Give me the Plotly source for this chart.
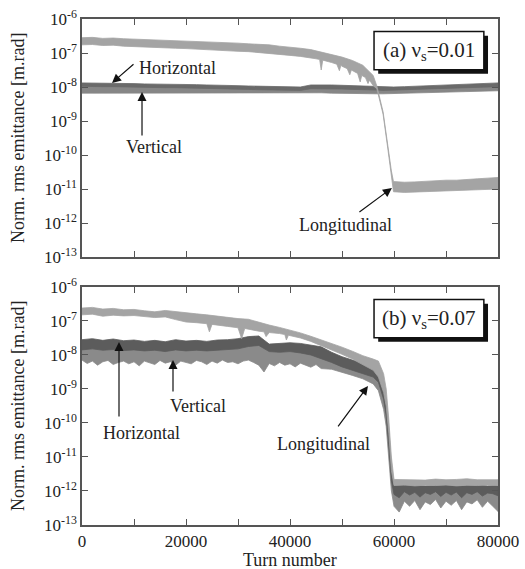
import plotly.graph_objects as go

# ---------------- data (log10 of normalized rms emittance, m.rad) ----------------
# Panel (a): nu_s = 0.01
turns_a = [0, 2000, 4000, 6000, 8000, 10000, 12000, 14000, 16000, 18000,
           20000, 22000, 24000, 26000, 28000, 30000, 32000, 34000, 36000, 38000,
           40000, 42000, 44000, 46000, 48000, 50000, 52000, 54000, 56000,
           56700, 57900, 58800, 59500, 59900,
           62000, 64000, 66000, 68000, 70000, 72000, 74000, 76000, 78000, 80000]

long_a_hi = [-6.55, -6.54, -6.57, -6.56, -6.58, -6.59, -6.60, -6.61, -6.62, -6.63,
             -6.64, -6.66, -6.67, -6.68, -6.70, -6.71, -6.73, -6.74, -6.76, -6.80,
             -6.82, -6.86, -6.90, -6.97, -7.04, -7.12, -7.22, -7.36, -7.66,
             -7.97, -8.73, -9.73, -10.47, -10.78,
             -10.80, -10.79, -10.77, -10.76, -10.74, -10.74, -10.71, -10.70, -10.68, -10.66]

long_a_lo_turns = [0, 2000, 4000, 6000, 8000, 10000, 12000, 14000, 16000, 18000,
                   20000, 22000, 24000, 26000, 28000, 30000, 32000, 34000, 36000, 38000,
                   40000, 42000, 44000, 45000, 45700, 46000, 46300, 47000, 48000, 49000,
                   49500, 49800, 50000, 51000, 51500, 51800, 52300, 53000, 53500, 53800,
                   54500, 55000, 55300, 56000, 56700, 57900, 58800, 59500, 59900,
                   62000, 64000, 66000, 68000, 70000, 72000, 74000, 76000, 78000, 80000]
long_a_lo = [-6.76, -6.75, -6.78, -6.77, -6.80, -6.80, -6.83, -6.83, -6.85, -6.86,
             -6.87, -6.89, -6.90, -6.92, -6.93, -6.95, -6.96, -6.98, -7.00, -7.04,
             -7.07, -7.10, -7.14, -7.17, -7.19, -7.50, -7.21, -7.24, -7.28, -7.33,
             -7.52, -7.36, -7.39, -7.46, -7.64, -7.50, -7.54, -7.60, -7.85, -7.66,
             -7.72, -7.90, -7.80, -7.96, -8.05, -8.80, -9.80, -10.55, -11.08,
             -11.10, -11.08, -11.07, -11.06, -11.05, -11.05, -11.03, -11.03, -11.01, -11.00]

horiz_a_hi = [-7.88, -7.88, -7.89, -7.89, -7.90, -7.90, -7.91, -7.91, -7.92, -7.92,
              -7.93, -7.93, -7.94, -7.94, -7.95, -7.96, -7.97, -7.98, -7.99, -8.00,
              -8.00, -8.00, -7.94, -7.93, -7.94, -7.95, -7.96, -7.97, -7.98,
              -7.98, -7.99, -7.99, -8.00, -8.00,
              -7.99, -7.98, -7.97, -7.96, -7.95, -7.94, -7.92, -7.91, -7.89, -7.88]
horiz_a_lo = [-7.98, -7.98, -7.99, -7.99, -8.00, -8.00, -8.01, -8.01, -8.02, -8.02,
              -8.03, -8.03, -8.04, -8.04, -8.05, -8.06, -8.07, -8.08, -8.09, -8.10,
              -8.10, -8.10, -8.05, -8.04, -8.05, -8.06, -8.07, -8.08, -8.09,
              -8.09, -8.10, -8.10, -8.11, -8.11,
              -8.10, -8.09, -8.08, -8.07, -8.06, -8.05, -8.03, -8.02, -8.00, -7.99]

vert_a_hi = [-7.92, -7.92, -7.93, -7.93, -7.94, -7.94, -7.95, -7.95, -7.96, -7.96,
             -7.97, -7.97, -7.98, -7.98, -7.99, -8.00, -8.01, -8.02, -8.03, -8.04,
             -8.04, -8.04, -7.98, -7.97, -7.98, -7.99, -8.00, -8.01, -8.02,
             -8.02, -8.03, -8.03, -8.04, -8.04,
             -8.03, -8.02, -8.01, -8.00, -7.99, -7.98, -7.96, -7.95, -7.93, -7.92]
vert_a_lo = [-8.18, -8.19, -8.18, -8.19, -8.18, -8.19, -8.18, -8.19, -8.18, -8.19,
             -8.18, -8.19, -8.18, -8.19, -8.18, -8.19, -8.19, -8.19, -8.19, -8.19,
             -8.19, -8.19, -8.17, -8.17, -8.18, -8.18, -8.19, -8.19, -8.20,
             -8.20, -8.20, -8.20, -8.20, -8.20,
             -8.20, -8.19, -8.18, -8.17, -8.16, -8.15, -8.14, -8.13, -8.12, -8.11]

# Panel (b): nu_s = 0.07
turns_b = [0, 2000, 4000, 6000, 8000, 10000, 12000, 14000, 16000, 18000,
           20000, 22000, 24000, 26000, 28000, 30000, 32000, 34000, 36000, 38000,
           40000, 42000, 44000, 46000, 48000, 50000, 52000, 54000, 56000,
           57000, 58000, 58500, 59000, 59500, 60000,
           62000, 64000, 66000, 68000, 70000, 72000, 74000, 76000, 78000, 80000]

long_b_hi = [-6.62, -6.60, -6.65, -6.63, -6.67, -6.66, -6.70, -6.73, -6.69, -6.73,
             -6.76, -6.79, -6.82, -6.86, -6.90, -6.93, -6.95, -7.04, -7.12, -7.19,
             -7.26, -7.35, -7.45, -7.55, -7.65, -7.77, -7.89, -8.02, -8.12,
             -8.18, -8.55, -9.00, -9.90, -11.00, -11.66,
             -11.67, -11.66, -11.68, -11.65, -11.67, -11.66, -11.64, -11.67, -11.66, -11.67]

long_b_lo_turns = [0, 2000, 4000, 6000, 8000, 10000, 12000, 14000, 16000, 18000,
                   20000, 22000, 24000, 24500, 25000, 26000, 28000, 30000, 30700, 31300,
                   32000, 34000, 35000, 35400, 36000, 38000, 39000, 39300, 39700, 40000,
                   42000, 44000, 46000, 48000, 50000, 52000, 54000, 56000,
                   57000, 58000, 58500, 59000, 59500, 60000,
                   62000, 64000, 66000, 68000, 70000, 72000, 74000, 76000, 78000, 80000]
long_b_lo = [-6.82, -6.80, -6.86, -6.83, -6.85, -6.84, -6.88, -6.90, -6.88, -6.96,
             -7.03, -7.05, -7.08, -7.32, -7.10, -7.12, -7.16, -7.20, -7.52, -7.22,
             -7.24, -7.30, -7.32, -7.46, -7.34, -7.37, -7.40, -7.56, -7.42, -7.42,
             -7.50, -7.60, -7.72, -7.85, -7.98, -8.12, -8.28, -8.45,
             -8.65, -9.10, -9.50, -10.30, -11.40, -11.84,
             -11.82, -11.85, -11.83, -11.84, -11.82, -11.85, -11.83, -11.84, -11.82, -11.84]

horiz_b_hi = [-7.55, -7.52, -7.57, -7.53, -7.58, -7.56, -7.60, -7.57, -7.61, -7.55,
              -7.59, -7.57, -7.60, -7.56, -7.55, -7.52, -7.46, -7.44, -7.68, -7.67,
              -7.64, -7.66, -7.70, -7.76, -7.92, -8.05, -8.15, -8.24, -8.32,
              -8.45, -8.90, -9.40, -10.20, -11.30, -11.82,
              -11.84, -11.83, -11.85, -11.84, -11.83, -11.85, -11.84, -11.83, -11.85, -11.84]

horiz_b_lo_turns = [0, 2000, 4000, 6000, 8000, 10000, 12000, 14000, 16000, 18000,
                    20000, 22000, 24000, 26000, 28000, 30000, 32000, 34000, 36000, 38000,
                    40000, 42000, 44000, 46000, 48000, 50000, 52000, 54000, 56000,
                    57000, 58000, 58500, 59000, 59500, 60000,
                    61000, 62000, 63000, 64000, 65000, 66000, 67000, 68000, 69000, 70000,
                    71000, 72000, 73000, 74000, 75000, 76000, 77000, 78000, 79000, 80000]
horiz_b_lo = [-7.85, -7.82, -7.86, -7.84, -7.87, -7.85, -7.88, -7.86, -7.90, -7.85,
              -7.88, -7.86, -7.88, -7.85, -7.84, -7.82, -7.75, -7.72, -7.90, -7.92,
              -7.90, -7.94, -8.00, -8.10, -8.22, -8.35, -8.45, -8.55, -8.65,
              -8.80, -9.30, -9.80, -10.70, -11.70, -12.10,
              -12.20, -12.02, -12.12, -12.04, -12.18, -12.05, -12.10, -12.02, -12.16, -12.04,
              -12.12, -12.03, -12.20, -12.05, -12.10, -12.02, -12.15, -12.06, -12.08, -12.14]

vert_b_hi = [-7.70, -7.66, -7.72, -7.68, -7.72, -7.70, -7.74, -7.71, -7.75, -7.70,
             -7.73, -7.71, -7.74, -7.70, -7.70, -7.66, -7.60, -7.58, -7.80, -7.80,
             -7.78, -7.80, -7.85, -7.92, -8.05, -8.18, -8.28, -8.38, -8.46,
             -8.60, -9.05, -9.55, -10.40, -11.50, -11.90,
             -11.92, -11.93, -11.95, -11.92, -11.94, -11.93, -11.95, -11.92, -11.94, -11.93]

vert_b_lo_turns = [0, 1000, 2000, 3000, 4000, 5000, 6000, 7000, 8000, 9000,
                   10000, 11000, 12000, 13000, 14000, 15000, 16000, 17000, 18000, 19000,
                   20000, 21000, 22000, 23000, 24000, 25000, 26000, 27000, 28000, 29000,
                   30000, 31000, 32000, 33000, 34000, 35000, 36000, 37000, 38000, 39000,
                   40000, 41000, 42000, 43000, 44000, 45000, 46000,
                   48000, 50000, 52000, 54000, 56000, 57000, 58000, 58500, 59000, 59500, 60000,
                   61000, 62000, 63000, 64000, 65000, 66000, 67000, 68000, 69000, 70000,
                   71000, 72000, 73000, 74000, 75000, 76000, 77000, 78000, 79000, 80000]
vert_b_lo = [-8.15, -8.25, -8.18, -8.30, -8.20, -8.16, -8.28, -8.22, -8.18, -8.26,
             -8.20, -8.32, -8.18, -8.22, -8.28, -8.16, -8.24, -8.20, -8.30, -8.18,
             -8.22, -8.26, -8.16, -8.20, -8.28, -8.18, -8.24, -8.15, -8.22, -8.20,
             -8.26, -8.18, -8.15, -8.22, -8.30, -8.50, -8.25, -8.32, -8.22, -8.30,
             -8.26, -8.35, -8.24, -8.30, -8.36, -8.28, -8.40,
             -8.42, -8.50, -8.60, -8.70, -8.85, -9.05, -9.60, -10.10, -11.00, -12.00, -12.45,
             -12.62, -12.30, -12.45, -12.28, -12.55, -12.32, -12.40, -12.25, -12.50, -12.30,
             -12.42, -12.28, -12.55, -12.32, -12.38, -12.26, -12.48, -12.30, -12.45, -12.60]

decades = [-6, -7, -8, -9, -10, -11, -12, -13]
x_ticks = [0, 10000, 20000, 30000, 40000, 50000, 60000, 70000, 80000]
x_labels = ["0", "", "20000", "", "40000", "", "60000", "", "80000"]

# ---------------- figure ----------------
FONT = "Liberation Serif"
C_L, C_V, C_H = "#a4a4a4", "#8a8a8a", "#5c5c5c"
C_VA, C_HA = "#868686", "#6a6a6a"


def band(x_hi, hi, x_lo, lo, color, xa, ya):
    xs = list(x_hi) + list(x_lo)[::-1]
    ys = [10 ** v for v in hi] + [10 ** v for v in lo][::-1]
    return go.Scatter(x=xs, y=ys, fill="toself", fillcolor=color, mode="lines",
                      line=dict(color=color, width=0.8), xaxis=xa, yaxis=ya,
                      hoverinfo="skip", showlegend=False)


fig = go.Figure()
fig.add_trace(band(turns_a, vert_a_hi, turns_a, vert_a_lo, C_VA, "x", "y"))
fig.add_trace(band(turns_a, horiz_a_hi, turns_a, horiz_a_lo, C_HA, "x", "y"))
fig.add_trace(band(turns_a, long_a_hi, long_a_lo_turns, long_a_lo, C_L, "x", "y"))
fig.add_trace(band(turns_b, vert_b_hi, vert_b_lo_turns, vert_b_lo, C_V, "x2", "y2"))
fig.add_trace(band(turns_b, horiz_b_hi, horiz_b_lo_turns, horiz_b_lo, C_H, "x2", "y2"))
fig.add_trace(band(turns_b, long_b_hi, long_b_lo_turns, long_b_lo, C_L, "x2", "y2"))

tick_font = dict(family=FONT, size=17, color="#222")
axcommon = dict(showline=True, linecolor="#555", linewidth=1.5, mirror="ticks",
                ticks="inside", ticklen=6, tickwidth=1.2, tickcolor="#555",
                showgrid=False, zeroline=False, tickfont=tick_font,
                automargin=False, ticklabeloverflow="allow")
yvals = [10.0 ** d for d in decades]
ytext = ["10<sup>%d</sup>" % d for d in decades]

fig.update_layout(
    template="none",
    width=525, height=569, autosize=False,
    margin=dict(l=82, r=27, t=19, b=44),
    paper_bgcolor="white", plot_bgcolor="white",
    font=dict(family=FONT, color="#222"),
    showlegend=False,
    xaxis=dict(domain=[0, 1], anchor="y", range=[0, 80000], tickvals=x_ticks,
               showticklabels=False, **axcommon),
    yaxis=dict(domain=[0.5296, 1], anchor="x", type="log", range=[-13, -6],
               tickvals=yvals, ticktext=ytext, **axcommon),
    xaxis2=dict(domain=[0, 1], anchor="y2", range=[0, 80000], tickvals=x_ticks,
                ticktext=x_labels, **axcommon),
    yaxis2=dict(domain=[0, 0.4704], anchor="x2", type="log", range=[-13, -6],
                tickvals=yvals, ticktext=ytext, **axcommon),
)

shapes = []
for xr, yr in (("x domain", "y domain"), ("x2 domain", "y2 domain")):
    shapes.append(dict(type="rect", xref=xr, yref=yr, x0=0.712, x1=0.976,
                       y0=0.770, y1=0.930, fillcolor="#111", line=dict(width=0),
                       layer="above"))
    shapes.append(dict(type="rect", xref=xr, yref=yr, x0=0.702, x1=0.966,
                       y0=0.787, y1=0.947, fillcolor="white",
                       line=dict(color="#111", width=1.5), layer="above"))
fig.update_layout(shapes=shapes)

ann = []
txt = dict(family=FONT, size=18, color="#222")
center = dict(xanchor="center", yanchor="middle", showarrow=False)
# panel labels
ann.append(dict(xref="x domain", yref="y domain", x=0.834, y=0.867,
                text="(a) ν<sub>s</sub>=0.01", font=dict(family=FONT, size=21, color="#222"), **center))
ann.append(dict(xref="x2 domain", yref="y2 domain", x=0.834, y=0.867,
                text="(b) ν<sub>s</sub>=0.07", font=dict(family=FONT, size=21, color="#222"), **center))
# axis titles
for yr in ("y domain", "y2 domain"):
    ann.append(dict(xref="paper", yref=yr, x=-0.154, y=0.5,
                    text="Norm. rms emittance [m.rad]", textangle=-90, font=txt, **center))
ann.append(dict(xref="paper", yref="paper", x=0.5, y=-0.069,
                text="Turn number", font=txt, **center))

arrow = dict(showarrow=True, text="", arrowhead=2, arrowsize=1.5, arrowwidth=1.2,
             arrowcolor="#111", axref="pixel", ayref="pixel")
# panel (a) labels + arrows
ann.append(dict(xref="x", yref="y", x=5770, y=-7.88, ax=23, ay=-20, **arrow))
ann.append(dict(xref="x", yref="y", x=10577, y=-7.44, text="Horizontal", font=txt,
                xanchor="left", yanchor="middle", showarrow=False))
ann.append(dict(xref="x", yref="y", x=11540, y=-8.15, ax=0, ay=45, **arrow))
ann.append(dict(xref="x", yref="y", x=13850, y=-9.76, text="Vertical", font=txt, **center))
ann.append(dict(xref="x", yref="y", x=59600, y=-10.97, ax=-34, ay=25, **arrow))
ann.append(dict(xref="x", yref="y", x=50580, y=-12.06, text="Longitudinal", font=txt, **center))
# panel (b) labels + arrows
ann.append(dict(xref="x2", yref="y2", x=7115, y=-7.62, ax=0, ay=76, **arrow))
ann.append(dict(xref="x2", yref="y2", x=11346, y=-10.29, text="Horizontal", font=txt, **center))
ann.append(dict(xref="x2", yref="y2", x=17500, y=-8.15, ax=0, ay=33, **arrow))
ann.append(dict(xref="x2", yref="y2", x=22300, y=-9.5, text="Vertical", font=txt, **center))
ann.append(dict(xref="x2", yref="y2", x=55000, y=-8.91, ax=-31, ay=42, **arrow))
ann.append(dict(xref="x2", yref="y2", x=46350, y=-10.62, text="Longitudinal", font=txt, **center))
fig.update_layout(annotations=ann)

# remove the page's default body margin so the 525x569 figure fills the window exactly
fig.write_html("out.html", config={"displayModeBar": False},
               post_script="document.body.style.margin='0';")
